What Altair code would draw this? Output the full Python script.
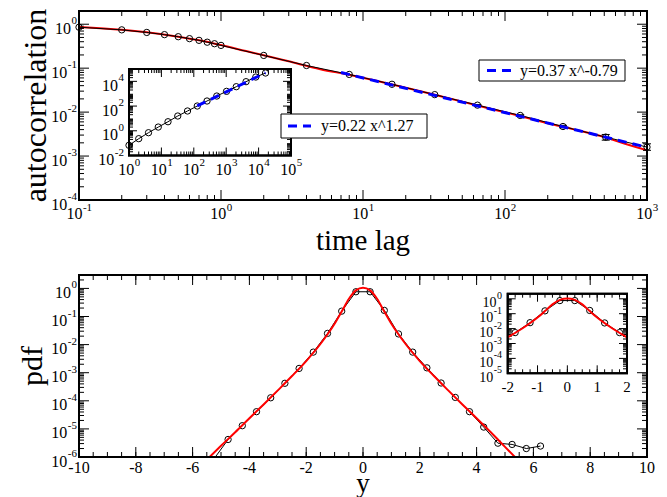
import math
import altair as alt
import pandas as pd

FONT = "Liberation Serif"
W, H1, H2 = 568, 189, 182

# ---------------- top panel: autocorrelation ----------------
TAU = [0.1, 0.2, 0.3, 0.4, 0.5, 0.6, 0.7, 0.8, 0.9, 1.0, 2, 4, 8, 16, 32, 64, 128, 256, 512, 1000]
ACF = [0.855, 0.745, 0.65, 0.58, 0.52, 0.47, 0.43, 0.39, 0.36, 0.33, 0.195, 0.115,
       0.072, 0.043, 0.025, 0.0144, 0.0084, 0.0047, 0.0027, 0.0016]
ERR_TAU = [64, 128, 256, 512, 1000]
ERR_LO = [0.0140, 0.0081, 0.0044, 0.0023, 0.00135]
ERR_HI = [0.0148, 0.0087, 0.0050, 0.0031, 0.0019]
FIT_TAU = [0.1, 0.2, 0.3, 0.5, 0.7, 1, 1.5, 2, 3, 5, 8, 12, 20, 30, 50, 80, 120, 200, 300, 500, 700, 1000]
FIT_ACF = [0.87, 0.75, 0.655, 0.52, 0.43, 0.335, 0.245, 0.197, 0.143, 0.095, 0.0705, 0.053,
           0.036, 0.0263, 0.0173, 0.0118, 0.0086, 0.0056, 0.0041, 0.0027, 0.0019, 0.00135]
POW_TAU = [7, 1000]
POW_ACF = [0.0796, 0.00158]
LEG_TOP = ["y=0.37 x^-0.79"]

INSET_N = [1, 2, 4, 8, 16, 32, 64, 128, 256, 512, 1024, 2048, 4096, 8192, 16384]
INSET_V = [0.067, 0.23, 0.70, 2.0, 5.4, 15.7, 40, 101, 257, 650, 1550, 3700, 9400, 22400, 47300]
INSET_POW_N = [128, 16384]
INSET_POW_V = [104, 49500]
LEG_INSET = ["y=0.22 x^1.27"]

TITLES_TOP = ["autocorrelation", "time lag"]

# ---------------- bottom panel: pdf ----------------
Y_BINS = [-5.25, -4.75, -4.25, -3.75, -3.25, -2.75, -2.25, -1.75, -1.25, -0.75, -0.25, 0.25,
          0.75, 1.25, 1.75, 2.25, 2.75, 3.25, 3.75, 4.25, 4.75, 5.25, 5.75, 6.25]
PDF = [8.5e-7, 4.2e-6, 1.3e-5, 4.1e-5, 1.28e-4, 4.2e-4, 1.42e-3, 5.4e-3, 0.025, 0.155, 0.76, 0.76,
       0.165, 0.024, 5.4e-3, 1.49e-3, 4.3e-4, 1.32e-4, 4.1e-5, 1.16e-5, 3.1e-6, 2.8e-6, 2.0e-6, 2.45e-6]
PDF_FIT_X = [-5.5, -5, -4.5, -4, -3.5, -3, -2.5, -2, -1.5, -1, -0.75, -0.5, -0.25, 0,
             0.25, 0.5, 0.75, 1, 1.5, 2, 2.5, 3, 3.5, 4, 4.5, 5, 5.5]
PDF_FIT_Y = [8e-7, 2.5e-6, 7.6e-6, 2.4e-5, 7.4e-5, 2.35e-4, 7.6e-4, 2.6e-3, 0.0105, 0.055, 0.15, 0.42,
             0.85, 1.05, 0.85, 0.42, 0.15, 0.055, 0.0105, 2.6e-3, 7.6e-4, 2.35e-4, 7.4e-5, 2.4e-5,
             7.6e-6, 2.3e-6, 7e-7]
TITLES_BOT = ["pdf", "y"]

# ---------------- axis tick values ----------------
TOP_X_MAJOR = [0.1, 1, 10, 100, 1000]
TOP_Y_MAJOR = [1e-4, 1e-3, 1e-2, 1e-1, 1]
INS_X_MAJOR = [1, 10, 100, 1000, 10000, 100000]
INS_Y_MAJOR = [1e-2, 1, 100, 10000]
BOT_X_MAJOR = [-10, -8, -6, -4, -2, 0, 2, 4, 6, 8, 10]
BOT_Y_MAJOR = [1e-6, 1e-5, 1e-4, 1e-3, 1e-2, 1e-1, 1]
BINS_X_MAJOR = [-2, -1, 0, 1, 2]
BINS_Y_MAJOR = [1e-5, 1e-4, 1e-3, 1e-2, 1e-1, 1]


def log_minor(e0, e1, dmax):
    return [k * 10.0 ** e for e in range(e0, e1) for k in range(2, 10) if k * 10.0 ** e <= dmax]


def lin_minor(lo, hi, step):
    n = int(round((hi - lo) / step))
    return [lo + i * step for i in range(n + 1)]


def S_log(dom, rng=None):
    kw = dict(type="log", domain=dom, nice=False)
    if rng is not None:
        kw["range"] = rng
    return alt.Scale(**kw)


def S_lin(dom, rng=None):
    kw = dict(type="linear", domain=dom, nice=False, zero=False)
    if rng is not None:
        kw["range"] = rng
    return alt.Scale(**kw)


def X(f, s):
    return alt.X(f + ":Q", scale=s, axis=None)


def Y(f, s):
    return alt.Y(f + ":Q", scale=s, axis=None)


def line(xv, yv, xs, ys, color, width, dash=None, interp="linear"):
    kw = dict(color=color, strokeWidth=width, clip=True, interpolate=interp)
    if dash:
        kw["strokeDash"] = dash
    return alt.Chart(pd.DataFrame({"x": xv, "y": yv})).mark_line(**kw).encode(x=X("x", xs), y=Y("y", ys))


def circles(xv, yv, xs, ys, size=40):
    return alt.Chart(pd.DataFrame({"x": xv, "y": yv})).mark_point(
        shape="circle", filled=False, color="black", size=size, strokeWidth=1, opacity=1
    ).encode(x=X("x", xs), y=Y("y", ys))


def xticks(vals, xs, y0, length, sign):
    return alt.Chart(pd.DataFrame({"v": vals})).mark_rule(color="black", strokeWidth=1).encode(
        x=X("v", xs), y=alt.value(y0), y2=alt.value(y0 + sign * length))


def yticks(vals, ys, x0, length, sign):
    return alt.Chart(pd.DataFrame({"v": vals})).mark_rule(color="black", strokeWidth=1).encode(
        y=Y("v", ys), x=alt.value(x0), x2=alt.value(x0 + sign * length))


def all_ticks(xs, ys, l, r, t, b, xmaj, xmin, ymaj, ymin, big, small):
    return [
        xticks(xmaj, xs, b, big, -1), xticks(xmin, xs, b, small, -1),
        xticks(xmaj, xs, t, big, 1), xticks(xmin, xs, t, small, 1),
        yticks(ymaj, ys, l, big, 1), yticks(ymin, ys, l, small, 1),
        yticks(ymaj, ys, r, big, -1), yticks(ymin, ys, r, small, -1),
    ]


def frame(xs, ys, xdom, ydom, fill=None):
    d = pd.DataFrame({"x": [xdom[0]], "x2": [xdom[1]], "y": [ydom[0]], "y2": [ydom[1]]})
    kw = dict(stroke="black", strokeWidth=2)
    if fill:
        kw["fill"] = fill
    else:
        kw["fillOpacity"] = 0
    return alt.Chart(d).mark_rect(**kw).encode(x=X("x", xs), x2="x2:Q", y=Y("y", ys), y2="y2:Q")


def exp_w(s, fs):
    return sum((0.333 if c == "-" else 0.5) * fs for c in s)


def exps(vals):
    return [str(int(round(math.log10(v)))) for v in vals]


def log_xlabels(vals, xs, yc, fsb=16, fse=11):
    layers = []
    groups = {}
    for v, e in zip(vals, exps(vals)):
        groups.setdefault(e.startswith("-"), []).append((v, e))
    for key, rows in groups.items():
        d = pd.DataFrame({"v": [r[0] for r in rows], "b": ["10"] * len(rows), "e": [r[1] for r in rows]})
        w = exp_w(rows[0][1], fse)
        dxb = (fsb - w) / 2.0
        layers.append(alt.Chart(d).mark_text(align="right", baseline="middle", dx=dxb, font=FONT,
                                             fontSize=fsb, color="black").encode(
            x=X("v", xs), y=alt.value(yc), text="b:N"))
        layers.append(alt.Chart(d).mark_text(align="left", baseline="middle", dx=dxb + 0.5, font=FONT,
                                             fontSize=fse, color="black").encode(
            x=X("v", xs), y=alt.value(yc - 6.5), text="e:N"))
    return layers


def log_ylabels(vals, ys, xr, fsb=16, fse=11, dyb=4.5, dye=-3):
    layers = []
    groups = {}
    for v, e in zip(vals, exps(vals)):
        groups.setdefault(e.startswith("-"), []).append((v, e))
    for key, rows in groups.items():
        d = pd.DataFrame({"v": [r[0] for r in rows], "b": ["10"] * len(rows), "e": [r[1] for r in rows]})
        w = exp_w(rows[0][1], fse)
        layers.append(alt.Chart(d).mark_text(align="right", baseline="middle", dx=-(w + 0.5), dy=dyb,
                                             font=FONT, fontSize=fsb, color="black").encode(
            y=Y("v", ys), x=alt.value(xr), text="b:N"))
        layers.append(alt.Chart(d).mark_text(align="right", baseline="middle", dy=dye, font=FONT,
                                             fontSize=fse, color="black").encode(
            y=Y("v", ys), x=alt.value(xr), text="e:N"))
    return layers


def lin_xlabels(vals, xs, yc, fs=16):
    d = pd.DataFrame({"v": vals, "t": [str(v) for v in vals]})
    return alt.Chart(d).mark_text(align="center", baseline="middle", font=FONT, fontSize=fs,
                                  color="black").encode(x=X("v", xs), y=alt.value(yc), text="t:N")


def text_at(label, x, y, fs, angle=0, align="center", baseline="middle"):
    kw = dict(align=align, baseline=baseline, font=FONT, fontSize=fs, color="black")
    if angle:
        kw["angle"] = angle
    return alt.Chart(pd.DataFrame({"t": [label]})).mark_text(**kw).encode(
        x=alt.value(x), y=alt.value(y), text="t:N")


def legend(label, x0, x1, y0, y1, lx0, lx1, tx):
    box = alt.Chart(pd.DataFrame({"t": [label]})).mark_rect(fill="white", stroke="black", strokeWidth=1).encode(
        x=alt.value(x0), x2=alt.value(x1), y=alt.value(y0), y2=alt.value(y1))
    ym = (y0 + y1) / 2.0
    dash = alt.Chart(pd.DataFrame({"t": [label]})).mark_rule(color="#0000ff", strokeWidth=3, strokeDash=[9, 6]).encode(
        x=alt.value(lx0), x2=alt.value(lx1), y=alt.value(ym))
    txt = text_at(label, tx, ym, 16, align="left")
    return [box, dash, txt]


# ================= TOP PANEL =================
xs1 = S_log([0.1, 1000])
ys1 = S_log([1e-4, 2])
xs1i = S_log([1, 1e5], [50, 212])
ys1i = S_log([1e-2, 1e5], [144.5, 58])

top_layers = []
top_layers.append(alt.Chart(pd.DataFrame({"a": [0]})).mark_rule(opacity=0).encode(
    x=alt.value(-70), x2=alt.value(-69), y=alt.value(-2), y2=alt.value(-1)))
top_layers += all_ticks(xs1, ys1, 0, W, 0, H1, TOP_X_MAJOR, log_minor(-1, 3, 1000),
                        TOP_Y_MAJOR, log_minor(-4, 1, 2), 10, 5)
top_layers.append(line(FIT_TAU, FIT_ACF, xs1, ys1, "#ff0000", 2, interp="monotone"))
top_layers.append(line(TAU, ACF, xs1, ys1, "black", 1))
top_layers.append(circles(TAU, ACF, xs1, ys1))
err = pd.DataFrame({"x": ERR_TAU, "lo": ERR_LO, "hi": ERR_HI})
top_layers.append(alt.Chart(err).mark_rule(color="black", strokeWidth=1).encode(
    x=X("x", xs1), y=Y("lo", ys1), y2="hi:Q"))
top_layers.append(alt.Chart(err).mark_tick(orient="horizontal", size=8, thickness=1, color="black", opacity=1).encode(
    x=X("x", xs1), y=Y("lo", ys1)))
top_layers.append(alt.Chart(err).mark_tick(orient="horizontal", size=8, thickness=1, color="black", opacity=1).encode(
    x=X("x", xs1), y=Y("hi", ys1)))
top_layers.append(line(POW_TAU, POW_ACF, xs1, ys1, "#0000ff", 3, dash=[9, 6]))
top_layers.append(frame(xs1, ys1, [0.1, 1000], [1e-4, 2]))
top_layers += log_xlabels(TOP_X_MAJOR, xs1, H1 + 14)
top_layers += log_ylabels(TOP_Y_MAJOR, ys1, -2)
# inset
top_layers.append(frame(xs1i, ys1i, [1, 1e5], [1e-2, 1e5], fill="white"))
top_layers += all_ticks(xs1i, ys1i, 50, 212, 58, 144.5, INS_X_MAJOR, log_minor(0, 5, 1e5),
                        INS_Y_MAJOR, log_minor(-2, 5, 1e5), 8, 4)
top_layers.append(line(INSET_N, INSET_V, xs1i, ys1i, "black", 1))
top_layers.append(circles(INSET_N, INSET_V, xs1i, ys1i))
top_layers.append(line(INSET_POW_N, INSET_POW_V, xs1i, ys1i, "#0000ff", 3, dash=[9, 6]))
top_layers.append(frame(xs1i, ys1i, [1, 1e5], [1e-2, 1e5]))
top_layers += log_xlabels(INS_X_MAJOR, xs1i, 144.5 + 14)
top_layers += log_ylabels(INS_Y_MAJOR, ys1i, 45)
# legends
top_layers += legend(LEG_TOP[0], 400, 546, 49, 70, 408, 432, 441)
top_layers += legend(LEG_INSET[0], 202, 348, 103, 127, 209, 232, 242)
# titles
top_layers.append(text_at(TITLES_TOP[0], -43, H1 / 2, 32, angle=270))
top_layers.append(text_at(TITLES_TOP[1], W / 2, 238.5, 29, baseline="alphabetic"))

top = alt.layer(*top_layers).resolve_scale(x="independent", y="independent").properties(width=W, height=H1)

# ================= BOTTOM PANEL =================
xs2 = S_lin([-10, 10])
ys2 = S_log([1e-6, 3])
xs2i = S_lin([-2, 2], [428.7, 548])
ys2i = S_log([1e-5, 2.2], [98.3, 18.7])

bot = pd.DataFrame({"x": Y_BINS, "y": PDF})
bot_vis = bot[bot["y"] >= 1e-6]
bot_in = bot[bot["x"].abs() <= 2]
fit = pd.DataFrame({"x": PDF_FIT_X, "y": PDF_FIT_Y})
fit_in = fit[fit["x"].abs() <= 2]

bl = []
bl += all_ticks(xs2, ys2, 0, W, 0, H2, BOT_X_MAJOR, lin_minor(-10, 10, 0.5),
                BOT_Y_MAJOR, log_minor(-6, 1, 3), 10, 5)
bl.append(line(list(bot["x"]), list(bot["y"]), xs2, ys2, "black", 1))
bl.append(circles(list(bot_vis["x"]), list(bot_vis["y"]), xs2, ys2))
bl.append(line(PDF_FIT_X, PDF_FIT_Y, xs2, ys2, "#ff0000", 2, interp="monotone"))
bl.append(frame(xs2, ys2, [-10, 10], [1e-6, 3]))
bl.append(lin_xlabels(BOT_X_MAJOR, xs2, H2 + 11))
bl += log_ylabels(BOT_Y_MAJOR, ys2, -2)
# inset
bl.append(frame(xs2i, ys2i, [-2, 2], [1e-5, 2.2], fill="white"))
bl += all_ticks(xs2i, ys2i, 428.7, 548, 18.7, 98.3, BINS_X_MAJOR, lin_minor(-2, 2, 0.25),
                BINS_Y_MAJOR, log_minor(-5, 1, 2.2), 8, 4)
bl.append(line(list(bot_in["x"]), list(bot_in["y"]), xs2i, ys2i, "black", 1))
bl.append(circles(list(bot_in["x"]), list(bot_in["y"]), xs2i, ys2i))
bl.append(line(list(fit_in["x"]), list(fit_in["y"]), xs2i, ys2i, "#ff0000", 2, interp="monotone"))
bl.append(frame(xs2i, ys2i, [-2, 2], [1e-5, 2.2]))
bl.append(lin_xlabels(BINS_X_MAJOR, xs2i, 98.3 + 13.5, fs=15))
bl += log_ylabels(BINS_Y_MAJOR, ys2i, 423, fsb=14, fse=10)
# titles
bl.append(text_at(TITLES_BOT[0], -46, H2 / 2, 30, angle=270))
bl.append(text_at(TITLES_BOT[1], W / 2, 217, 27, baseline="alphabetic"))

bottom = alt.layer(*bl).resolve_scale(x="independent", y="independent").properties(width=W, height=H2)

chart = alt.vconcat(top, bottom, spacing=75, bounds="flush").properties(padding=0).configure_view(
    stroke="transparent")

chart.save("out.html", embed_options={"renderer": "svg", "actions": False})
